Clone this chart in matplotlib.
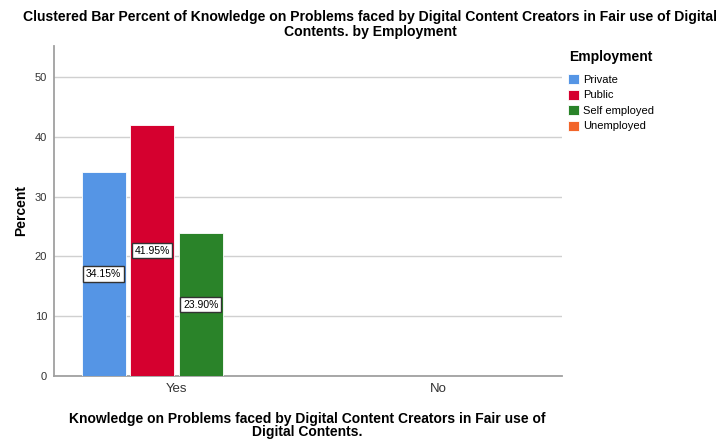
import numpy as np
import matplotlib.pyplot as plt

plt.rcParams['font.family'] = ['Liberation Sans', 'DejaVu Sans']

# Data
categories = ["Yes", "No"]
groups = ["Private", "Public", "Self employed", "Unemployed"]
values = {
    "Private": [34.15, 0],
    "Public": [41.95, 0],
    "Self employed": [23.90, 0],
    "Unemployed": [0, 0],
}
colors = ["#5595E5", "#D5002F", "#2A8329", "#F2652A"]
yticks = [0, 10, 20, 30, 40, 50]

fig = plt.figure(figsize=(7.24, 4.41), dpi=100)
ax = fig.add_axes([54 / 724, 1 - 376 / 441, 508 / 724, 330 / 441])

x = np.arange(len(categories))
slot = 0.1855
width = 0.168
for i, (g, c) in enumerate(zip(groups, colors)):
    offs = (i - 1.5) * slot
    vals = values[g]
    ax.bar(x + offs, vals, width=width, color=c, edgecolor="white", linewidth=0.6,
           label=g, zorder=3)
    for xi, v in zip(x + offs, vals):
        if v > 0:
            ax.text(xi, v / 2, f"{v:.2f}%", ha="center", va="center", fontsize=7.5,
                    zorder=4,
                    bbox=dict(boxstyle="square,pad=0.25", fc="white", ec="#333333", lw=1.0))

ax.set_xlim(-0.468, 1.474)
ax.set_ylim(0, 55.2)
ax.set_yticks(yticks)
ax.set_xticks(x)
ax.set_xticklabels(categories, fontsize=9.5, color="#333333")
ax.tick_params(axis="y", labelsize=8, colors="#333333", length=0, pad=5)
ax.tick_params(axis="x", length=0, pad=5)
ax.grid(axis="y", color="#d0d0d0", linewidth=1, zorder=0)
for s in ["top", "right"]:
    ax.spines[s].set_visible(False)
for s in ["left", "bottom"]:
    ax.spines[s].set_color("#a0a0a0")
    ax.spines[s].set_linewidth(1.3)

ax.set_ylabel("Percent", fontsize=10, fontweight="bold", labelpad=5)
ax.set_xlabel("Knowledge on Problems faced by Digital Content Creators in Fair use of\nDigital Contents.",
              fontsize=10, fontweight="bold", linespacing=0.95)
ax.xaxis.set_label_coords(307 / 724, 1 - 439 / 441, transform=fig.transFigure)
ax.xaxis.label.set_va("bottom")

fig.text(370 / 724, 1 - 10 / 441,
         "Clustered Bar Percent of Knowledge on Problems faced by Digital Content Creators in Fair use of Digital\nContents. by Employment",
         ha="center", va="top", fontsize=10.1, fontweight="bold", linespacing=1.05)

fig.text(569 / 724, 1 - 57 / 441, "Employment", ha="left", va="center",
         fontsize=10, fontweight="bold")
leg = ax.legend(loc="upper left", bbox_to_anchor=(566 / 724, 1 - 72 / 441),
                bbox_transform=fig.transFigure, frameon=False,
                fontsize=8, handlelength=1.0, handleheight=1.0,
                handletextpad=0.3, labelspacing=0.42, borderaxespad=0.0, borderpad=0.2)

fig.savefig("out.png", dpi=100)
